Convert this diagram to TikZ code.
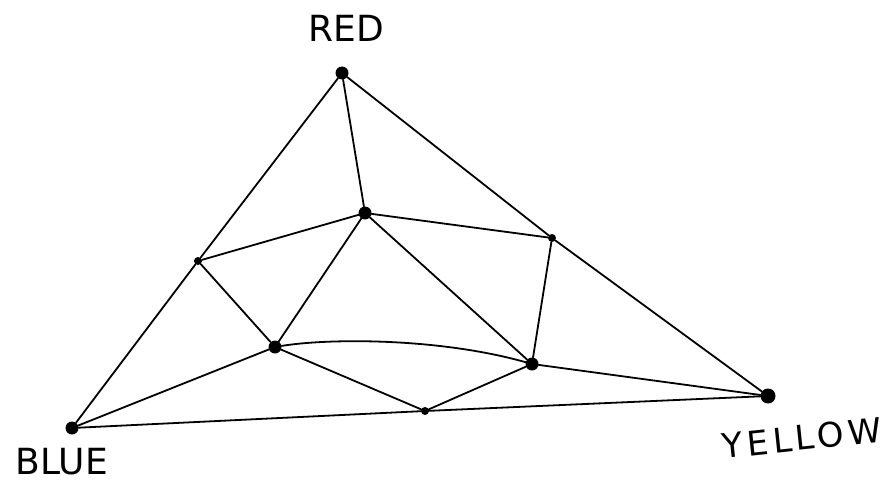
\documentclass[tikz,border=0pt]{standalone}
\usepackage{fontspec}
\setmainfont{DejaVu Sans}
\begin{document}
\begin{tikzpicture}[x=1pt,y=-1pt,
  big/.style={circle,fill=black,inner sep=0pt,minimum size=13pt},
  small/.style={circle,fill=black,inner sep=0pt,minimum size=8pt},
  edge/.style={line width=1.8pt,line cap=round},
  lbl/.style={inner sep=1pt,font=\fontsize{36}{40}\selectfont}]
\useasboundingbox[fill=white] (0,0) rectangle (891,484);
\node[big] (red) at (342,73) {};
\node[big] (blue) at (72,428) {};
\node[big,minimum size=15pt] (yellow) at (768,396) {};
\node[small] (l) at (198,261) {};
\node[small] (r) at (552,238) {};
\node[big] (ct) at (365,213) {};
\node[big] (cl) at (275,347) {};
\node[big] (cr) at (532,364) {};
\node[small] (b) at (425,411) {};
\draw[edge] (red) -- (l) -- (blue);
\draw[edge] (red) -- (r) -- (yellow);
\draw[edge] (blue) -- (b) -- (yellow);
\draw[edge] (red) -- (ct);
\draw[edge] (l) -- (ct) -- (r);
\draw[edge] (l) -- (cl) -- (ct) -- (cr) -- (r);
\draw[edge] (cl) .. controls (330,338) and (440,338) .. (cr);
\draw[edge] (cl) -- (blue);
\draw[edge] (cl) -- (b) -- (cr) -- (yellow);
\node[lbl] (tred) at (346,28) {RED};
\node[lbl] (tblue) at (62,462) {BLUE};
\node[lbl,rotate=6,font=\fontsize{34}{40}\selectfont\addfontfeature{LetterSpace=12}] (tyellow) at (802,438) {YELLOW};
\end{tikzpicture}
\end{document}
